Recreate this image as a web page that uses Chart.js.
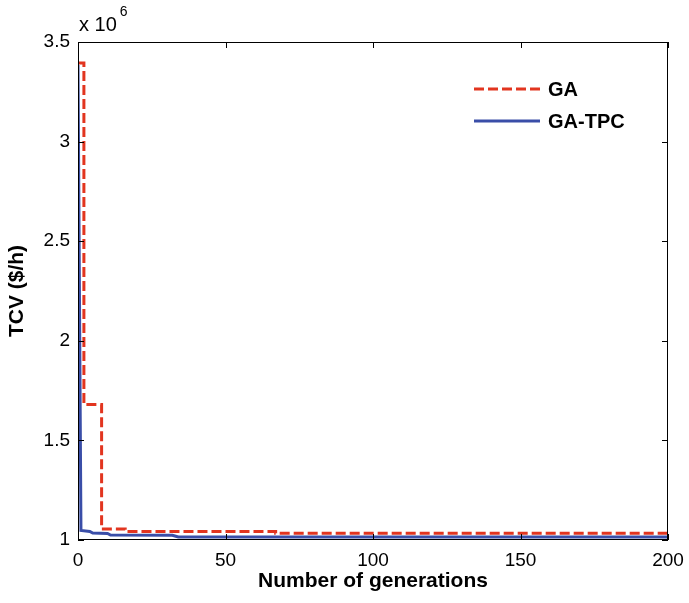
<!DOCTYPE html>
<html>
<head>
<meta charset="utf-8">
<script src="https://cdn.jsdelivr.net/npm/chart.js@4.4.1/dist/chart.umd.min.js"></script>
<style>
  html, body { margin: 0; padding: 0; background: #fff; }
  #wrap { width: 689px; height: 603px; }
</style>
</head>
<body>
<div id="wrap"><canvas id="tcvChart"></canvas></div>
<script>
// generations / TCV values ($/h)
const gaGen = [0, 2, 8, 16, 67, 200];
const gaTcv = [3395000, 1680000, 1055000, 1043000, 1034000, 1034000];

const tpcGen = [0, 1, 4, 5, 10, 11, 32, 34, 200];
const tpcTcv = [3385000, 1048000, 1043000, 1035000, 1033000, 1025000, 1024000, 1015000, 1015000];

const xTicks = [0, 50, 100, 150, 200];
const yTicks = [1000000, 1500000, 2000000, 2500000, 3000000, 3500000];

const FONT = "'Liberation Sans', Arial, Helvetica, sans-serif";

function toPoints(xs, ys) {
    return xs.map((v, i) => ({ x: v, y: ys[i] }));
}

// box, inward ticks, exponent label and legend like the matlab figure
const matlabDecor = {
    id: 'matlabDecor',
    afterDraw(chart) {
        const { ctx, chartArea: a, scales } = chart;
        const tl = 6;
        ctx.save();
        ctx.strokeStyle = '#000';
        ctx.lineWidth = 1;
        ctx.strokeRect(a.left + 0.5, a.top + 0.5, a.right - a.left - 1, a.bottom - a.top - 1);

        ctx.beginPath();
        xTicks.forEach(v => {
            const px = Math.round(scales.x.getPixelForValue(v)) + 0.5;
            ctx.moveTo(px, a.bottom); ctx.lineTo(px, a.bottom - tl);
            ctx.moveTo(px, a.top); ctx.lineTo(px, a.top + tl);
        });
        yTicks.forEach(v => {
            const py = Math.round(scales.y.getPixelForValue(v)) + 0.5;
            ctx.moveTo(a.left, py); ctx.lineTo(a.left + tl, py);
            ctx.moveTo(a.right, py); ctx.lineTo(a.right - tl, py);
        });
        ctx.stroke();

        // x 10^6
        ctx.fillStyle = '#000';
        ctx.textBaseline = 'alphabetic';
        ctx.textAlign = 'left';
        ctx.font = '20px ' + FONT;
        ctx.fillText('x 10', a.left + 1, a.top - 11);
        const w = ctx.measureText('x 10').width;
        ctx.font = '14px ' + FONT;
        ctx.fillText('6', a.left + 4 + w, a.top - 26);

        // legend
        chart.data.datasets.forEach((ds, i) => {
            const ly = a.top + 47 + i * 32;
            const x0 = a.right - 194;
            ctx.beginPath();
            ctx.strokeStyle = ds.borderColor;
            ctx.lineWidth = ds.borderWidth;
            ctx.setLineDash(ds.borderDash || []);
            ctx.moveTo(x0, ly);
            ctx.lineTo(x0 + 66, ly);
            ctx.stroke();
            ctx.setLineDash([]);
            ctx.fillStyle = '#000';
            ctx.font = 'bold 20px ' + FONT;
            ctx.textBaseline = 'middle';
            ctx.fillText(ds.label, x0 + 74, ly + 1);
        });
        ctx.restore();
    }
};

const ctx = document.getElementById('tcvChart').getContext('2d');

new Chart(ctx, {
    type: 'line',
    data: {
        datasets: [{
            label: 'GA',
            data: toPoints(gaGen, gaTcv),
            borderColor: '#e2351f',
            borderWidth: 3,
            borderDash: [10, 4],
            stepped: true,
            pointRadius: 0,
            fill: false
        }, {
            label: 'GA-TPC',
            data: toPoints(tpcGen, tpcTcv),
            borderColor: '#3a4ea8',
            borderWidth: 3,
            pointRadius: 0,
            tension: 0,
            fill: false
        }]
    },
    options: {
        responsive: true,
        maintainAspectRatio: false,
        animation: false,
        layout: { padding: { top: 42, right: 21, left: 0, bottom: 0 } },
        plugins: {
            legend: { display: false },
            tooltip: { enabled: false }
        },
        scales: {
            x: {
                type: 'linear',
                min: 0,
                max: 200,
                afterFit: s => { s.height = 63; },
                afterBuildTicks: s => { s.ticks = xTicks.map(v => ({ value: v })); },
                grid: { display: false, drawTicks: true, tickLength: 9 },
                border: { display: false },
                ticks: {
                    padding: 0,
                    color: '#000',
                    maxRotation: 0,
                    font: { family: FONT, size: 19 }
                },
                title: {
                    display: true,
                    text: 'Number of generations',
                    color: '#000',
                    padding: { top: 4, bottom: 9 },
                    font: { family: FONT, size: 21, weight: 'bold' }
                }
            },
            y: {
                min: 1000000,
                max: 3500000,
                afterFit: s => { s.width = 78; },
                afterBuildTicks: s => { s.ticks = yTicks.map(v => ({ value: v })); },
                grid: { display: false, drawTicks: false },
                border: { display: false },
                ticks: {
                    padding: 8,
                    color: '#000',
                    font: { family: FONT, size: 19 },
                    callback: v => String(v / 1000000)
                },
                title: {
                    display: true,
                    text: 'TCV ($/h)',
                    color: '#000',
                    padding: { top: 5, bottom: 4 },
                    font: { family: FONT, size: 21, weight: 'bold' }
                }
            }
        }
    },
    plugins: [matlabDecor]
});
</script>
</body>
</html>
